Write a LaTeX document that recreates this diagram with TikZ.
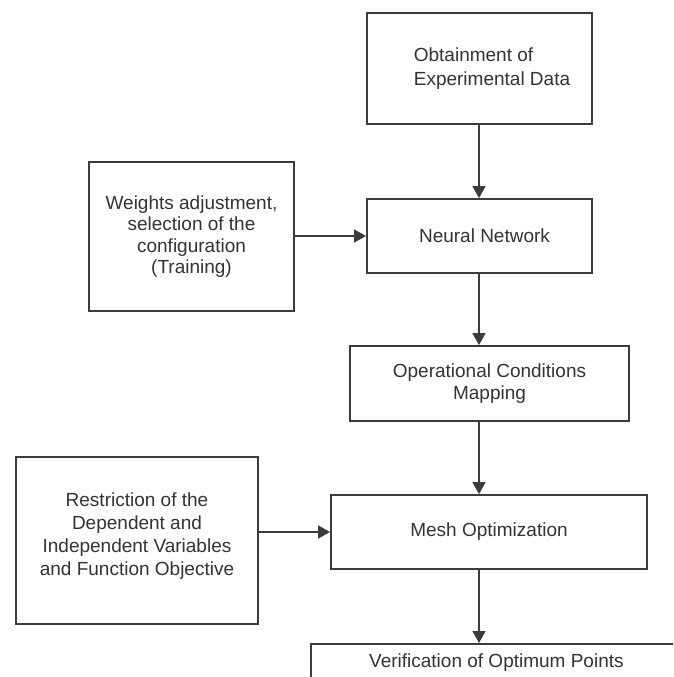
\documentclass[tikz,border=0pt]{standalone}
\usepackage{fontspec}
\setmainfont{Liberation Sans}
\usetikzlibrary{arrows.meta}
\definecolor{edge}{HTML}{3C3C3C}
\definecolor{txt}{HTML}{333333}
\tikzset{
  box/.style={draw=edge, line width=1.8pt, rectangle, inner sep=0pt, align=center,
    text=txt, font=\fontsize{19}{22.5}\selectfont},
  arr/.style={draw=edge, line width=1.4pt, -{Triangle[length=12pt,width=13pt]}}
}
\begin{document}
\begin{tikzpicture}[x=1pt,y=-1pt]
\clip (0,0) rectangle (673,677);
\fill[white] (0,0) rectangle (673,677);
\coordinate (col) at (479,0);
\node[box, minimum width=225, minimum height=111, font=\fontsize{19}{24}\selectfont] (data) at (479.5,68.5)
  {\begin{tabular}{@{\hspace{25pt}}l@{}}Obtainment of\\Experimental Data\end{tabular}};
\node[box, minimum width=225, minimum height=74] (nn) at (479.5,236) {\hspace*{10pt}Neural Network};
\node[box, minimum width=205, minimum height=149, font=\fontsize{19}{21.5}\selectfont] (train) at (191.5,236.5)
  {Weights adjustment,\\selection of the\\configuration\\(Training)};
\node[box, minimum width=279, minimum height=75] (ocm) at (489.5,383.5)
  {Operational Conditions\\Mapping};
\node[box, minimum width=316, minimum height=74] (mesh) at (489,532) {Mesh Optimization};
\node[box, minimum width=242, minimum height=167, font=\fontsize{19}{23}\selectfont] (restr) at (137,540.5)
  {Restriction of the\\Dependent and\\Independent Variables\\and Function Objective\\[-11pt]};
\node[box, anchor=north west, minimum width=420, inner ysep=10pt, text depth=60pt] (verif) at (310,643)
  {\hspace*{-24.5pt}Verification of Optimum Points\hspace*{24.5pt}};
\draw[arr] (data.south -| col) -- (nn.north -| col);
\draw[arr] (train.east |- nn.west) -- (nn.west);
\draw[arr] (nn.south -| col) -- (ocm.north -| col);
\draw[arr] (ocm.south -| col) -- (mesh.north -| col);
\draw[arr] (restr.east |- mesh.west) -- (mesh.west);
\draw[arr] (mesh.south -| col) -- (verif.north -| col);
\end{tikzpicture}
\end{document}
